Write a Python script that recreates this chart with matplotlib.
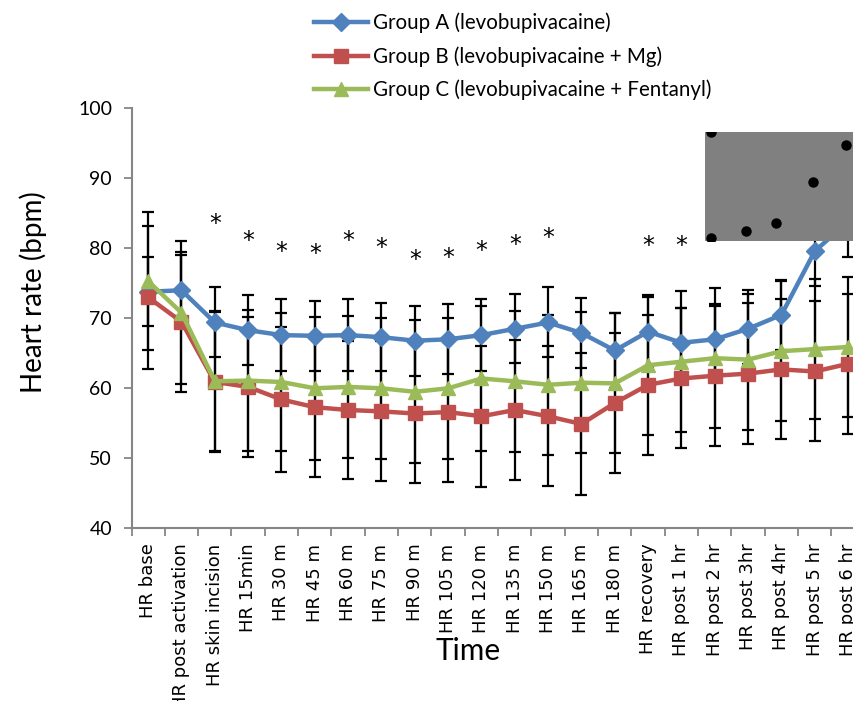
import matplotlib
matplotlib.use('Agg')
import matplotlib.pyplot as plt
from matplotlib.patches import Rectangle

# time points on the x axis
labels = ["HR base", "HR post activation", "HR skin incision", "HR 15min", "HR 30 m",
          "HR 45 m", "HR 60 m", "HR 75 m", "HR 90 m", "HR 105 m", "HR 120 m", "HR 135 m",
          "HR 150 m", "HR 165 m", "HR 180 m", "HR recovery", "HR post 1 hr", "HR post 2 hr",
          "HR post 3hr", "HR post 4hr", "HR post 5 hr", "HR post 6 hr"]

# Group A (levobupivacaine)
group_a = [73.8, 74.0, 69.4, 68.3, 67.6, 67.5, 67.6, 67.3, 66.8, 67.0, 67.6,
           68.5, 69.4, 67.9, 65.4, 68.1, 66.5, 67.0, 68.5, 70.5, 79.6, 83.8]
sd_a = [4.9, 5.0, 5.0, 5.0, 5.1, 5.0, 5.1, 4.9, 5.0, 5.0, 5.1,
        4.9, 5.0, 5.0, 5.3, 5.0, 5.0, 5.0, 5.0, 5.0, 5.0, 5.0]

# Group B (levobupivacaine + Mg)
group_b = [73.0, 69.5, 60.9, 60.2, 58.4, 57.3, 56.9, 56.7, 56.4, 56.6, 56.0,
           56.9, 56.0, 54.9, 57.9, 60.5, 61.4, 61.8, 62.1, 62.7, 62.4, 63.5]
sd_b = [10.2, 10.0, 10.0, 10.0, 10.3, 10.0, 9.9, 10.0, 10.0, 10.0, 10.1,
        10.0, 10.0, 10.1, 10.0, 10.0, 10.0, 10.0, 10.1, 10.0, 10.0, 10.0]

# Group C (levobupivacaine + Fentanyl)
group_c = [75.3, 70.8, 61.0, 61.1, 60.9, 60.0, 60.2, 60.0, 59.5, 60.0, 61.4,
           61.0, 60.5, 60.8, 60.7, 63.3, 63.8, 64.3, 64.1, 65.3, 65.6, 65.9]
sd_c = [9.9, 10.2, 10.0, 10.1, 9.8, 10.2, 10.1, 10.1, 10.2, 10.1, 10.3,
        10.1, 10.0, 10.1, 10.0, 10.0, 10.1, 10.0, 10.0, 10.0, 10.0, 10.0]

# significance asterisks
star_idx = [2, 3, 4, 5, 6, 7, 8, 9, 10, 11, 12, 15, 16]
star_y = [84.2, 81.8, 80.2, 79.9, 81.7, 80.7, 79.0, 79.3, 80.3, 81.1, 82.2, 81.0, 81.0]

# grey patch over the top right corner, with the blotted marks under it
box_x = (16.7, 21.5)
box_y = (81.0, 96.6)
blob_idx = [16.9, 16.9, 17.95, 18.85, 19.95, 20.95]
blob_y = [81.4, 96.6, 82.4, 83.6, 89.4, 94.7]

series = [
    ("Group A (levobupivacaine)", group_a, sd_a, "#4F81BD", "D", 9.5),
    ("Group B (levobupivacaine + Mg)", group_b, sd_b, "#C0504D", "s", 9.5),
    ("Group C (levobupivacaine + Fentanyl)", group_c, sd_c, "#9BBB59", "^", 10.5),
]

FONT = "Lato"
AXIS_GREY = "#868686"

fig = plt.figure(figsize=(8.54, 7.01), dpi=100)
ax = fig.add_axes([131.5 / 854, 172.7 / 701, 733.3 / 854, 420 / 701])

x = list(range(len(labels)))

handles = []
for name, vals, sd, color, marker, ms in series:
    ax.errorbar(x, vals, yerr=sd, fmt="none", ecolor="black", elinewidth=1.6,
                capsize=4.5, capthick=1.6, zorder=2)
for name, vals, sd, color, marker, ms in series:
    line, = ax.plot(x, vals, color=color, lw=3.2, marker=marker, markersize=ms,
                    markeredgecolor=color, label=name, zorder=3)
    handles.append(line)

for i, y in zip(star_idx, star_y):
    ax.annotate("*", (i, y), xytext=(0, -3.5), textcoords="offset points",
                ha="center", va="center", fontsize=17, color="black",
                family="DejaVu Sans", zorder=4)

box = Rectangle((box_x[0], box_y[0]), box_x[1] - box_x[0], box_y[1] - box_y[0],
                facecolor="#808080", edgecolor="none", zorder=5, clip_on=False)
ax.add_patch(box)
blobs, = ax.plot(blob_idx, blob_y, "o", color="black", markersize=6.5, zorder=6)
blobs.set_clip_path(box)

ax.set_xlim(-0.5, len(labels) - 0.5)
ax.set_ylim(40, 100)
ax.set_yticks(range(40, 101, 10))

for side in ["top", "right"]:
    ax.spines[side].set_visible(False)
for side in ["left", "bottom"]:
    ax.spines[side].set_color(AXIS_GREY)
    ax.spines[side].set_linewidth(1.5)

ax.set_xticks([i - 0.5 for i in range(len(labels) + 1)])
ax.set_xticklabels([])
ax.set_xticks(x, minor=True)
ax.set_xticklabels(labels, minor=True, rotation=90, fontsize=13, family="DejaVu Sans")
ax.tick_params(axis="x", which="major", length=6, width=1.3, color=AXIS_GREY, direction="out")
ax.tick_params(axis="x", which="minor", length=0, pad=11)
ax.tick_params(axis="y", length=6, width=1.3, color=AXIS_GREY, direction="out",
               labelsize=14, pad=8)
for lab in ax.get_yticklabels():
    lab.set_family(FONT)

ax.set_ylabel("Heart rate (bpm)", fontsize=20, family=FONT, va="center", ha="center")
ax.yaxis.set_label_coords(-0.134, 0.563)
ax.set_xlabel("Time", fontsize=21.5, family=FONT, va="center", ha="center")
ax.xaxis.set_label_coords(0.4595, -0.291)

fig.legend(handles=handles, loc="upper left", bbox_to_anchor=(300 / 854, 1 + 2 / 701),
           frameon=False, prop={"family": FONT, "size": 14.8}, handlelength=2.6,
           handletextpad=0.25, labelspacing=0.64, borderpad=0.2)

fig.savefig("out.png", dpi=100)
